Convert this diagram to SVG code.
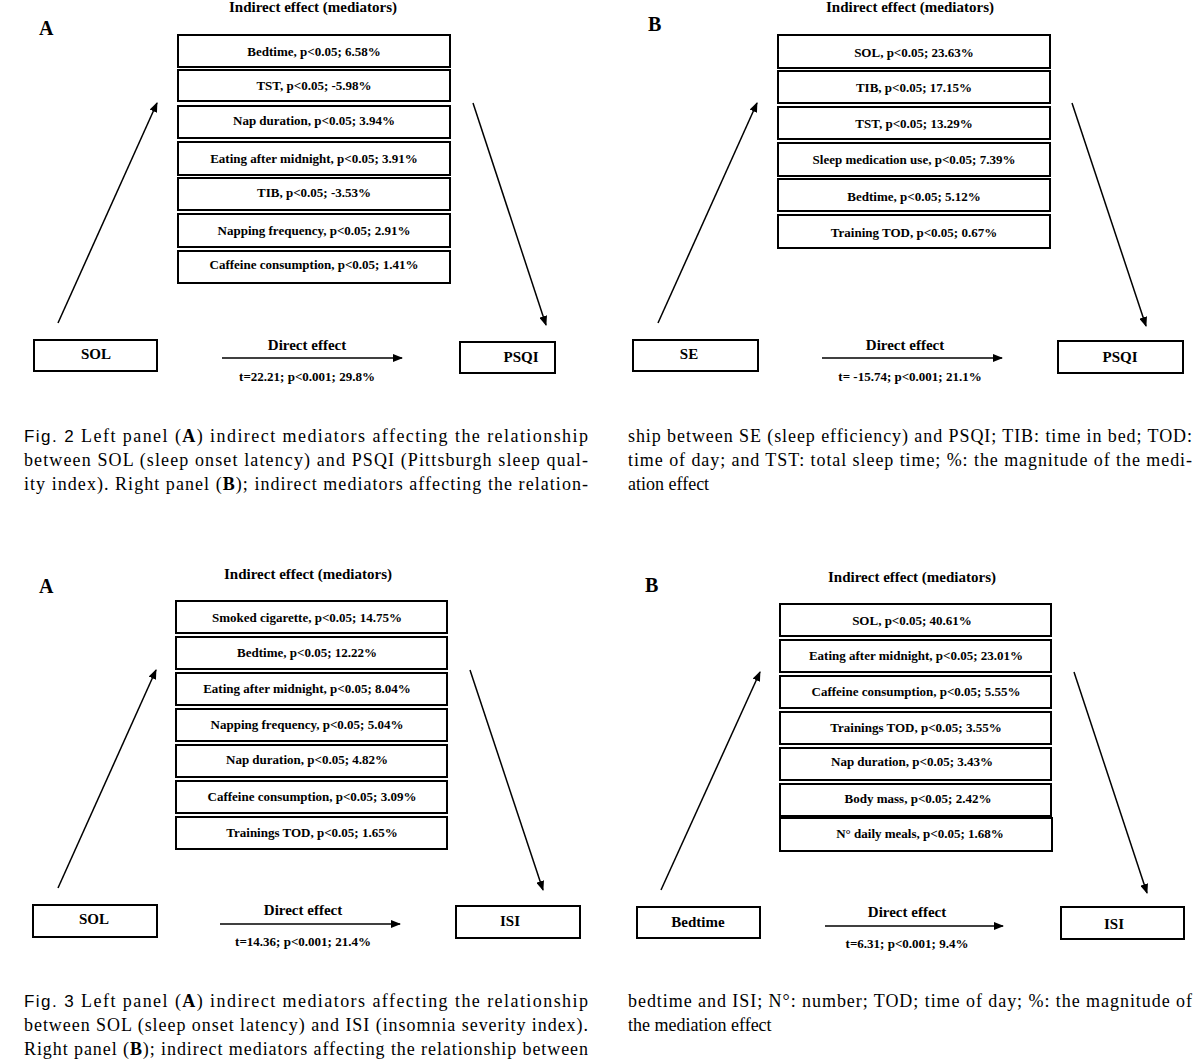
<svg xmlns="http://www.w3.org/2000/svg" width="1200" height="1064" viewBox="0 0 1200 1064">
<style>
.b{fill:#fff;stroke:#000;stroke-width:2}
.m{font-family:"Liberation Serif",serif;font-weight:bold;font-size:13px;text-anchor:middle}
.n{font-family:"Liberation Serif",serif;font-weight:bold;font-size:15px;text-anchor:middle}
.h{font-family:"Liberation Serif",serif;font-weight:bold;font-size:15px;text-anchor:middle}
.p{font-family:"Liberation Serif",serif;font-weight:bold;font-size:20px}
.c{font-family:"Liberation Serif",serif;font-size:18px}
.f{font-family:"Liberation Sans",sans-serif;font-size:17px}
.l{stroke:#000;stroke-width:1.5;fill:none;marker-end:url(#a)}
</style>
<defs><marker id="a" markerWidth="10" markerHeight="8" refX="9" refY="4" orient="auto" markerUnits="userSpaceOnUse"><path d="M0,0L10,4L0,8z"/></marker></defs>
<rect width="1200" height="1064" fill="#fff"/>
<g id="connectors">
<path class="l" d="M58,323L157,103"/><path class="l" d="M473,103L546,325"/><path class="l" d="M222,358L402,358"/>
<path class="l" d="M658,323L757,103"/><path class="l" d="M1072,103L1146,326"/><path class="l" d="M822,358L1002,358"/>
<path class="l" d="M58,888L156,670"/><path class="l" d="M470,670L543,890"/><path class="l" d="M220,924L400,924"/>
<path class="l" d="M661,890L760,672"/><path class="l" d="M1074,672L1147,893"/><path class="l" d="M825,926L1003,926"/>
</g>
<g id="panel2A">
<text class="p" x="39" y="35">A</text>
<text class="h" x="313" y="12">Indirect effect (mediators)</text>
<rect class="b" x="178" y="35" width="272" height="32"/><text class="m" x="314" y="56">Bedtime, p&lt;0.05; 6.58%</text>
<rect class="b" x="178" y="70" width="272" height="31"/><text class="m" x="314" y="90">TST, p&lt;0.05; -5.98%</text>
<rect class="b" x="178" y="106" width="272" height="32"/><text class="m" x="314" y="125">Nap duration, p&lt;0.05; 3.94%</text>
<rect class="b" x="178" y="142" width="272" height="33"/><text class="m" x="314" y="163">Eating after midnight, p&lt;0.05; 3.91%</text>
<rect class="b" x="178" y="178" width="272" height="32"/><text class="m" x="314" y="197">TIB, p&lt;0.05; -3.53%</text>
<rect class="b" x="178" y="214" width="272" height="33"/><text class="m" x="314" y="235">Napping frequency, p&lt;0.05; 2.91%</text>
<rect class="b" x="178" y="251" width="272" height="32"/><text class="m" x="314" y="269">Caffeine consumption, p&lt;0.05; 1.41%</text>
<g id="n2a_sol"><rect class="b" x="34" y="340" width="123" height="31"/><text class="n" x="96" y="359">SOL</text></g>
<g id="n2a_psqi"><rect class="b" x="460" y="342" width="95" height="31"/><text class="n" x="521" y="362">PSQI</text></g>
<text class="h" x="307" y="350">Direct effect</text>
<text class="m" x="307" y="381">t=22.21; p&lt;0.001; 29.8%</text>
</g>
<g id="panel2B">
<text class="p" x="648" y="31">B</text>
<text class="h" x="910" y="12">Indirect effect (mediators)</text>
<rect class="b" x="778" y="35" width="272" height="33"/><text class="m" x="914" y="57">SOL, p&lt;0.05; 23.63%</text>
<rect class="b" x="778" y="71" width="272" height="32"/><text class="m" x="914" y="92">TIB, p&lt;0.05; 17.15%</text>
<rect class="b" x="778" y="107" width="272" height="32"/><text class="m" x="914" y="128">TST, p&lt;0.05; 13.29%</text>
<rect class="b" x="778" y="143" width="272" height="33"/><text class="m" x="914" y="164">Sleep medication use, p&lt;0.05; 7.39%</text>
<rect class="b" x="778" y="179" width="272" height="32"/><text class="m" x="914" y="201">Bedtime, p&lt;0.05; 5.12%</text>
<rect class="b" x="778" y="215" width="272" height="33"/><text class="m" x="914" y="237">Training TOD, p&lt;0.05; 0.67%</text>
<g id="n2b_se"><rect class="b" x="633" y="340" width="125" height="31"/><text class="n" x="689" y="359">SE</text></g>
<g id="n2b_psqi"><rect class="b" x="1058" y="341" width="125" height="32"/><text class="n" x="1120" y="362">PSQI</text></g>
<text class="h" x="905" y="350">Direct effect</text>
<text class="m" x="910" y="381">t= -15.74; p&lt;0.001; 21.1%</text>
</g>
<g id="caption2">
<text class="c" x="24" y="442" textLength="564" lengthAdjust="spacing"><tspan class="f">Fig. 2</tspan> Left panel (<tspan font-weight="bold">A</tspan>) indirect mediators affecting the relationship</text>
<text class="c" x="24" y="466" textLength="564" lengthAdjust="spacing">between SOL (sleep onset latency) and PSQI (Pittsburgh sleep qual-</text>
<text class="c" x="24" y="490" textLength="564" lengthAdjust="spacing">ity index). Right panel (<tspan font-weight="bold">B</tspan>); indirect mediators affecting the relation-</text>
<text class="c" x="628" y="442" textLength="564" lengthAdjust="spacing">ship between SE (sleep efficiency) and PSQI; TIB: time in bed; TOD:</text>
<text class="c" x="628" y="466" textLength="564" lengthAdjust="spacing">time of day; and TST: total sleep time; %: the magnitude of the medi-</text>
<text class="c" x="628" y="490">ation effect</text>
</g>
<g id="panel3A">
<text class="p" x="39" y="593">A</text>
<text class="h" x="308" y="579">Indirect effect (mediators)</text>
<rect class="b" x="176" y="601" width="271" height="32"/><text class="m" x="307" y="622">Smoked cigarette, p&lt;0.05; 14.75%</text>
<rect class="b" x="176" y="637" width="271" height="32"/><text class="m" x="307" y="657">Bedtime, p&lt;0.05; 12.22%</text>
<rect class="b" x="176" y="673" width="271" height="32"/><text class="m" x="307" y="693">Eating after midnight, p&lt;0.05; 8.04%</text>
<rect class="b" x="176" y="709" width="271" height="32"/><text class="m" x="307" y="729">Napping frequency, p&lt;0.05; 5.04%</text>
<rect class="b" x="176" y="745" width="271" height="32"/><text class="m" x="307" y="764">Nap duration, p&lt;0.05; 4.82%</text>
<rect class="b" x="176" y="781" width="271" height="32"/><text class="m" x="312" y="801">Caffeine consumption, p&lt;0.05; 3.09%</text>
<rect class="b" x="176" y="817" width="271" height="32"/><text class="m" x="312" y="837">Trainings TOD, p&lt;0.05; 1.65%</text>
<g id="n3a_sol"><rect class="b" x="33" y="905" width="124" height="32"/><text class="n" x="94" y="924">SOL</text></g>
<g id="n3a_isi"><rect class="b" x="456" y="906" width="124" height="32"/><text class="n" x="510" y="926">ISI</text></g>
<text class="h" x="303" y="915">Direct effect</text>
<text class="m" x="303" y="946">t=14.36; p&lt;0.001; 21.4%</text>
</g>
<g id="panel3B">
<text class="p" x="645" y="592">B</text>
<text class="h" x="912" y="582">Indirect effect (mediators)</text>
<rect class="b" x="780" y="604" width="271" height="32"/><text class="m" x="912" y="625">SOL, p&lt;0.05; 40.61%</text>
<rect class="b" x="780" y="640" width="271" height="32"/><text class="m" x="916" y="660">Eating after midnight, p&lt;0.05; 23.01%</text>
<rect class="b" x="780" y="676" width="271" height="32"/><text class="m" x="916" y="696">Caffeine consumption, p&lt;0.05; 5.55%</text>
<rect class="b" x="780" y="712" width="271" height="32"/><text class="m" x="916" y="732">Trainings TOD, p&lt;0.05; 3.55%</text>
<rect class="b" x="780" y="748" width="271" height="32"/><text class="m" x="912" y="766">Nap duration, p&lt;0.05; 3.43%</text>
<rect class="b" x="780" y="784" width="271" height="32"/><text class="m" x="918" y="803">Body mass, p&lt;0.05; 2.42%</text>
<rect class="b" x="780" y="818" width="272" height="33"/><text class="m" x="920" y="838">N° daily meals, p&lt;0.05; 1.68%</text>
<g id="n3b_bed"><rect class="b" x="637" y="907" width="123" height="31"/><text class="n" x="698" y="927">Bedtime</text></g>
<g id="n3b_isi"><rect class="b" x="1061" y="907" width="123" height="32"/><text class="n" x="1114" y="929">ISI</text></g>
<text class="h" x="907" y="917">Direct effect</text>
<text class="m" x="907" y="948">t=6.31; p&lt;0.001; 9.4%</text>
</g>
<g id="caption3">
<text class="c" x="24" y="1007" textLength="564" lengthAdjust="spacing"><tspan class="f">Fig. 3</tspan> Left panel (<tspan font-weight="bold">A</tspan>) indirect mediators affecting the relationship</text>
<text class="c" x="24" y="1031" textLength="564" lengthAdjust="spacing">between SOL (sleep onset latency) and ISI (insomnia severity index).</text>
<text class="c" x="24" y="1055" textLength="564" lengthAdjust="spacing">Right panel (<tspan font-weight="bold">B</tspan>); indirect mediators affecting the relationship between</text>
<text class="c" x="628" y="1007" textLength="564" lengthAdjust="spacing">bedtime and ISI; N°: number; TOD; time of day; %: the magnitude of</text>
<text class="c" x="628" y="1031">the mediation effect</text>
</g>
</svg>
